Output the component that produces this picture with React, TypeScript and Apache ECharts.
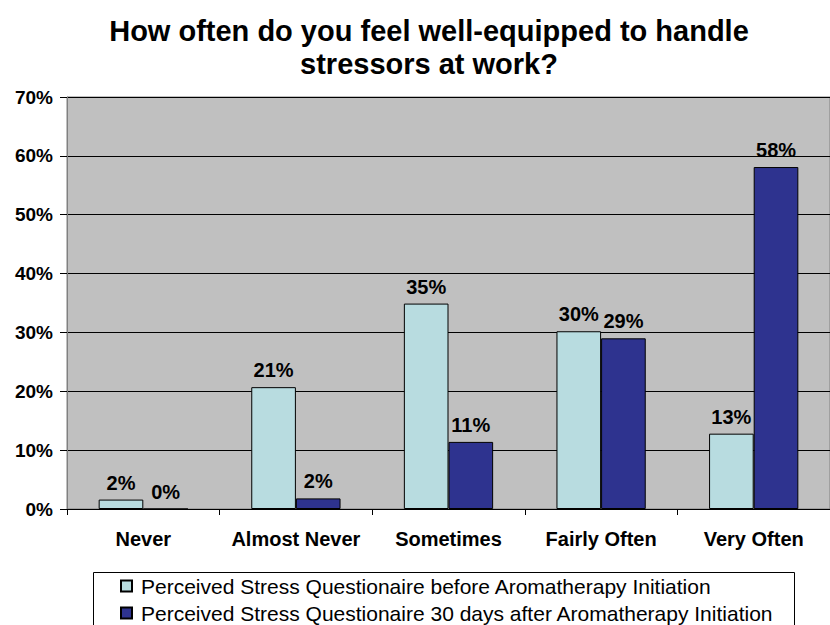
import React, { useEffect, useRef } from "react";
import * as echarts from "echarts";

const categories = ["Never", "Almost Never", "Sometimes", "Fairly Often", "Very Often"];
const beforeValues = [1.6, 20.7, 34.9, 30.2, 12.8];
const afterValues = [0, 1.8, 11.4, 29.0, 58.1];
const seriesNames = [
  "Perceived Stress Questionaire before Aromatherapy Initiation",
  "Perceived Stress Questionaire 30 days after Aromatherapy Initiation",
];
const titleText = "How often do you feel well-equipped to handle\nstressors at work?";
const yMax = 70;
const yStep = 10;

const FONT = "'Liberation Sans', Arial, sans-serif";

export default function App() {
  const ref = useRef<HTMLDivElement>(null);

  useEffect(() => {
    if (!ref.current) return;
    const chart = echarts.init(ref.current, undefined, { renderer: "svg" });

    const barLabel = {
      show: true,
      position: "top" as const,
      distance: 7,
      color: "#000",
      fontFamily: FONT,
      fontWeight: "bold" as const,
      fontSize: 20,
      formatter: (p: any) => `${Math.round(p.value)}%`,
    };

    // one legend row per series, stacked inside a framed box
    const legendRow = (name: string, top: number) => ({
      orient: "horizontal",
      left: 120,
      top,
      padding: 0,
      itemWidth: 11,
      itemHeight: 11,
      icon: "rect",
      textStyle: {
        fontFamily: FONT,
        fontSize: 21,
        lineHeight: 22,
        color: "#000",
        padding: [0, 0, 0, 4],
      },
      data: [name],
    });

    chart.setOption({
      animation: false,
      backgroundColor: "#ffffff",
      textStyle: { fontFamily: FONT },
      title: {
        text: titleText,
        left: 424,
        top: 9,
        textAlign: "center",
        textStyle: {
          fontFamily: FONT,
          fontWeight: "bold",
          fontSize: 29,
          lineHeight: 33,
          color: "#000",
        },
      },
      grid: {
        left: 67,
        top: 97,
        width: 770,
        height: 412,
        show: true,
        backgroundColor: "#C0C0C0",
        borderColor: "#808080",
        borderWidth: 1,
      },
      legend: [legendRow(seriesNames[0], 575), legendRow(seriesNames[1], 602)],
      graphic: [
        {
          type: "rect",
          shape: { x: 93.5, y: 572.5, width: 701, height: 80 },
          style: { fill: "none", stroke: "#000", lineWidth: 1 },
          silent: true,
        },
      ],
      xAxis: {
        type: "category",
        data: categories,
        axisLine: { lineStyle: { color: "#000", width: 1 } },
        axisTick: { show: true, length: 6, lineStyle: { color: "#000" } },
        axisLabel: {
          interval: 0,
          margin: 20,
          color: "#000",
          fontFamily: FONT,
          fontWeight: "bold",
          fontSize: 20,
        },
      },
      yAxis: {
        type: "value",
        min: 0,
        max: yMax,
        interval: yStep,
        axisLine: { show: true, lineStyle: { color: "#808080", width: 1 } },
        axisTick: { show: true, length: 7, lineStyle: { color: "#000" } },
        splitLine: { show: true, lineStyle: { color: "#000", width: 1 } },
        axisLabel: {
          margin: 14,
          color: "#000",
          fontFamily: FONT,
          fontWeight: "bold",
          fontSize: 19,
          formatter: "{value}%",
        },
      },
      series: [
        {
          name: seriesNames[0],
          type: "bar",
          data: beforeValues,
          barGap: "0%",
          barCategoryGap: "41.5%",
          itemStyle: { color: "#B8DCE0", borderColor: "#000", borderWidth: 1 },
          label: barLabel,
        },
        {
          name: seriesNames[1],
          type: "bar",
          data: afterValues,
          barGap: "0%",
          barCategoryGap: "41.5%",
          itemStyle: { color: "#2E338F", borderColor: "#000", borderWidth: 1 },
          label: barLabel,
        },
      ],
    });

    return () => chart.dispose();
  }, []);

  return (
    <div
      ref={ref}
      style={{ position: "absolute", left: 0, top: 0, width: 830, height: 625, overflow: "hidden" }}
    />
  );
}
